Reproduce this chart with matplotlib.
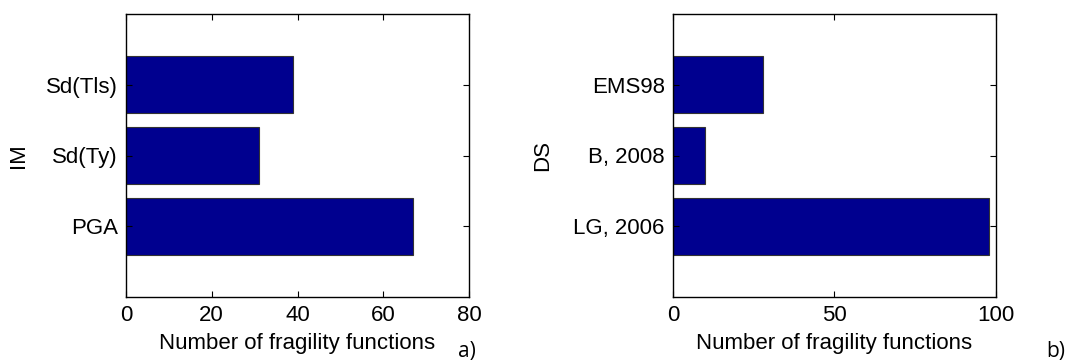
import matplotlib
matplotlib.use('Agg')
import matplotlib.pyplot as plt

# intensity measures (painel a)
im_labels = ['PGA', 'Sd(Ty)', 'Sd(Tls)']
im_counts = [67, 31, 39]

# damage scales (painel b)
ds_labels = ['LG, 2006', 'B, 2008', 'EMS98']
ds_counts = [98, 10, 28]

plt.rcParams['font.family'] = ['Liberation Sans', 'DejaVu Sans']
plt.rcParams['font.size'] = 16

cor_barra = (0, 0, 0.5625)

fig = plt.figure(figsize=(10.77, 3.64), dpi=100)
ax1 = fig.add_axes([126/1077, 1 - 297/364, 343/1077, 283/364])
ax2 = fig.add_axes([673/1077, 1 - 297/364, 322.5/1077, 283/364])


def painel(ax, labels, valores, xmax, xticks, ylabel, ylabel_x):
    pos = list(range(1, len(valores) + 1))
    ax.barh(pos, valores, height=0.8, color=cor_barra, edgecolor='#333333', linewidth=0.8)
    ax.set_xlim(0, xmax)
    ax.set_ylim(0, len(valores) + 1)
    ax.set_xticks(xticks)
    ax.set_yticks(pos)
    ax.set_yticklabels(labels)
    ax.tick_params(direction='in', top=True, right=True, length=4, width=0.8, pad=6)
    ax.set_xlabel('Number of fragility functions', labelpad=5)
    ax.set_ylabel(ylabel)
    ax.yaxis.set_label_coords(ylabel_x, 0.5)
    for s in ax.spines.values():
        s.set_linewidth(1.0)


painel(ax1, im_labels, im_counts, 80, [0, 20, 40, 60, 80], 'IM', -0.283)
painel(ax2, ds_labels, ds_counts, 100, [0, 50, 100], 'DS', -0.372)

fig.text(458/1077, 1 - 352/364, 'a)', fontsize=15, family=['Open Sans', 'DejaVu Sans'], ha='left', va='center')
fig.text(1046/1077, 1 - 352/364, 'b)', fontsize=15, family=['Open Sans', 'DejaVu Sans'], ha='left', va='center')

fig.savefig('out.png', dpi=100)
